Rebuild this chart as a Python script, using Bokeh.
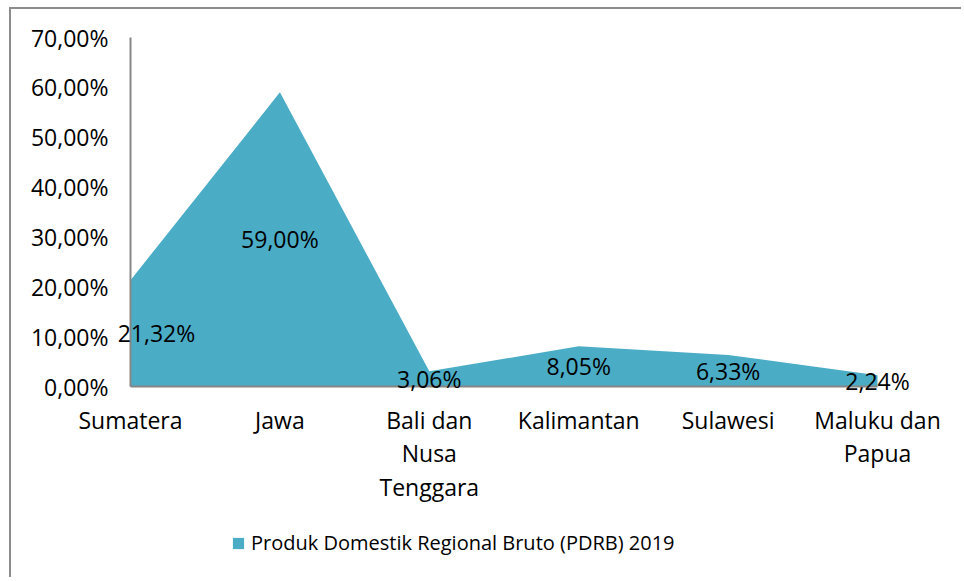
from bokeh.plotting import figure
from bokeh.models import ColumnDataSource, Legend, LegendItem, Range1d
from bokeh.core.properties import value
from bokeh.embed import file_html
from bokeh.resources import INLINE

# ---- data ----
categories = ["Sumatera", "Jawa", "Bali dan\nNusa\nTenggara", "Kalimantan", "Sulawesi", "Maluku dan\nPapua"]
pdrb_2019 = [21.32, 59.00, 3.06, 8.05, 6.33, 2.24]
y_ticks = [0, 10, 20, 30, 40, 50, 60, 70]
series_name = "Produk Domestik Regional Bruto (PDRB) 2019"

FONT = "Open Sans"
FILL = "#4BACC6"
AXIS = "#868686"
FS = "23px"

n = len(categories)
xs = list(range(n))
y_max_tick = y_ticks[-1]

# ---- layout (pixels) ----
FRAME_W, FRAME_H = 950, 568
ORIGIN_X, ORIGIN_Y = 11, 9          # frame's top-left on the page
AX_LEFT, AX_RIGHT = 130, 877        # where the first / last category sit
AX_TOP, AX_BOTTOM = 37, 386         # where 70 % / 0 % sit

px_x = (AX_RIGHT - AX_LEFT) / (n - 1)
px_y = (AX_BOTTOM - AX_TOP) / y_max_tick
x_range = Range1d(-(AX_LEFT - ORIGIN_X) / px_x, (n - 1) + (ORIGIN_X + FRAME_W - AX_RIGHT) / px_x)
y_range = Range1d(-(ORIGIN_Y + FRAME_H - AX_BOTTOM) / px_y, y_max_tick + (AX_TOP - ORIGIN_Y) / px_y)

p = figure(frame_width=FRAME_W, frame_height=FRAME_H, output_backend="svg", toolbar_location=None,
           x_range=x_range, y_range=y_range, x_axis_type=None, y_axis_type=None, min_border=0)
p.styles = {"border-top": "2px solid #8c8c8c", "border-left": "2px solid #8c8c8c",
            "margin-left": "9px", "margin-top": "7px"}
p.outline_line_color = None
p.grid.visible = False

src = ColumnDataSource(dict(
    x=xs,
    y=pdrb_2019,
    zero=[0] * n,
    ly=[v / 2 for v in pdrb_2019],
    txt=[f"{v:.2f}".replace(".", ",") + "%" for v in pdrb_2019],
    xo=[26] + [0] * (n - 1),
))

area = p.varea(x="x", y1="zero", y2="y", source=src, fill_color=FILL)

# axis lines
p.segment(x0=[0, 0], y0=[0, 0], x1=[n - 1, 0], y1=[0, y_max_tick], line_color=AXIS, line_width=2)

# y tick labels
p.text(x=[0] * len(y_ticks), y=y_ticks,
       text=[f"{t:.2f}".replace(".", ",") + "%" for t in y_ticks],
       x_offset=-22, text_align="right", text_baseline="middle",
       text_font=value(FONT), text_font_size=FS, text_color="black")

# category labels
p.text(x=xs, y=[0] * n, text=categories, y_offset=17,
       text_align="center", text_baseline="top", text_line_height=1.05,
       text_font=value(FONT), text_font_size=FS, text_color="black")

# data labels
p.text(x="x", y="ly", text="txt", source=src, x_offset="xo",
       text_align="center", text_baseline="middle",
       text_font=value(FONT), text_font_size=FS, text_color="black")

legend = Legend(items=[LegendItem(label=series_name, renderers=[area])],
                location=(220, 21), orientation="horizontal",
                label_text_font=FONT, label_text_font_size="20px", label_text_color="black",
                glyph_width=14, glyph_height=14, label_standoff=6,
                padding=6, margin=0,
                border_line_color=None, background_fill_alpha=0)
p.add_layout(legend, "center")

open("out.html", "w").write(file_html(p, INLINE))
